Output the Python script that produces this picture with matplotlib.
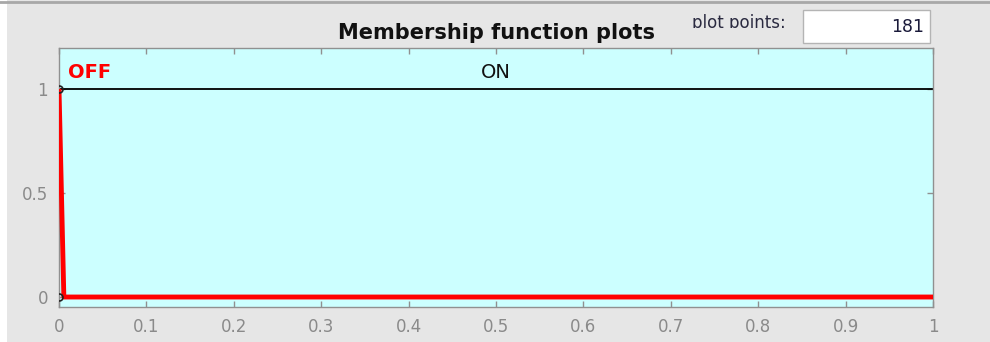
import numpy as np
import matplotlib
matplotlib.use("Agg")
import matplotlib.pyplot as plt
from matplotlib.patches import Rectangle

plt.rcParams['font.family'] = ['DejaVu Sans']

# Data
n_points = 181
x = np.linspace(0, 1, n_points)
off_values = np.where(x == 0, 1.0, 0.0)   # OFF: 1 at x=0, 0 elsewhere
on_values = np.ones_like(x)                # ON: 1 everywhere
xticks = [0, 0.1, 0.2, 0.3, 0.4, 0.5, 0.6, 0.7, 0.8, 0.9, 1]
xticklabels = ['0', '0.1', '0.2', '0.3', '0.4', '0.5', '0.6', '0.7', '0.8', '0.9', '1']
yticks = [0, 0.5, 1]
yticklabels = ['0', '0.5', '1']

W, H = 990, 342
BG = '#e6e6e6'
fig = plt.figure(figsize=(W / 100, H / 100), dpi=100, facecolor=BG)

def fx(px):
    return px / W

def fy(py):
    return 1 - py / H

# left white strip and top line
fig.patches.append(Rectangle((0, 0), fx(7), 1, transform=fig.transFigure,
                             facecolor='white', edgecolor='none', zorder=0))
fig.add_artist(plt.Line2D([0, 1], [fy(1.5), fy(1.5)], transform=fig.transFigure,
                          color='#a8a8a8', lw=2))

ax = fig.add_axes([fx(59), fy(307), fx(933) - fx(59), fy(48) - fy(307)])
ax.set_facecolor('#ccffff')
ax.set_xlim(0, 1)
ax.set_ylim(-0.048, 1.197)

ax.plot(x, on_values, color='black', lw=1.3, zorder=2)
ax.plot(x, off_values, color='#ff0000', lw=3.5, zorder=3, solid_capstyle='butt')
ax.plot([0, 0], [1, 0], linestyle='none', marker='o', markersize=5,
        markerfacecolor='none', markeredgecolor='#222222', markeredgewidth=1.2,
        zorder=4, clip_on=True)

ax.set_xticks(xticks)
ax.set_xticklabels(xticklabels)
ax.set_yticks(yticks)
ax.set_yticklabels(yticklabels)
ax.tick_params(direction='in', top=True, right=True, length=4, width=1,
               color='#909090', labelcolor='#8a8a8a', labelsize=12, pad=8)
for s in ax.spines.values():
    s.set_color('#909090')
    s.set_linewidth(1)

ax.text(0.01, 1.08, 'OFF', color='#ff0000', fontweight='bold', fontsize=14,
        ha='left', va='center')
ax.text(0.5, 1.08, 'ON', color='#111111', fontsize=14, ha='center', va='center')

fig.text(fx(497), fy(33), 'Membership function plots', fontweight='bold',
         fontsize=15, ha='center', va='center', color='#111111')

# plot points label (clipped at bottom)
fig.text(fx(692), fy(28), 'plot points:', fontsize=12, ha='left', va='baseline',
         color='#2a2a40')
fig.patches.append(Rectangle((fx(688), fy(36)), fx(112), fy(28) - fy(36),
                             transform=fig.transFigure, facecolor=BG,
                             edgecolor='none', zorder=5))
fig.patches.append(Rectangle((fx(803), fy(43)), fx(127), fy(10) - fy(43),
                             transform=fig.transFigure, facecolor='white',
                             edgecolor='#b4b4b4', lw=1, zorder=5))
fig.text(fx(924), fy(27), str(n_points), fontsize=12.5, ha='right', va='center',
         color='#1a1a3a', zorder=6)

fig.savefig('out.png', dpi=100, facecolor=BG)
